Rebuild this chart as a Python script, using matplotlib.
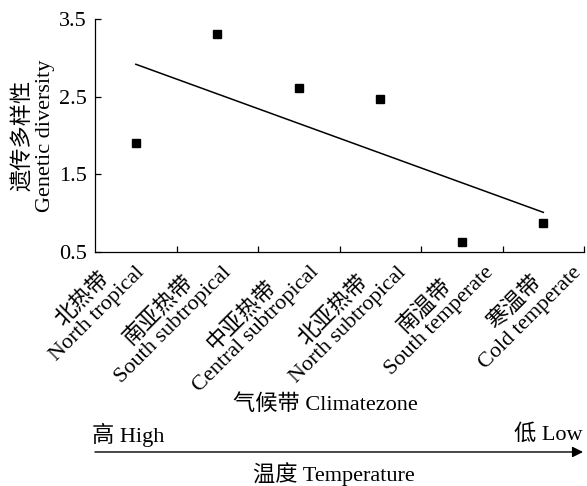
import numpy as np
import matplotlib
matplotlib.use('Agg')
import matplotlib.pyplot as plt
from matplotlib.transforms import ScaledTranslation

# 字体: 英文 Times 风格, 中文回退到 Noto CJK
plt.rcParams['font.family'] = ['Liberation Serif', 'Noto Sans CJK SC']
plt.rcParams['font.size'] = 16

# 数据
zones_cn = ['北热带', '南亚热带', '中亚热带', '北亚热带', '南温带', '寒温带']
zones_en = ['North tropical', 'South subtropical', 'Central subtropical',
            'North subtropical', 'South temperate', 'Cold temperate']
diversity = [1.90, 3.31, 2.61, 2.47, 0.63, 0.87]

yticks = [0.5, 1.5, 2.5, 3.5]

fig = plt.figure(figsize=(5.87, 4.86), dpi=100)
ax = fig.add_axes([0.162, 0.481, 0.833, 0.480])

x = np.arange(len(diversity)) + 0.5
ax.plot(x, diversity, 's', color='black', ms=6, zorder=3)

# 线性趋势线
k, b = np.polyfit(x, diversity, 1)
ax.plot([x[0], x[-1]], [k * x[0] + b, k * x[-1] + b], color='black', lw=1.1)

ax.set_xlim(0, len(diversity))
ax.set_ylim(0.5, 3.5)
ax.set_yticks(yticks)
ax.set_yticklabels([f'{v:.1f}' for v in yticks])

for s in ['top', 'right']:
    ax.spines[s].set_visible(False)
for s in ['left', 'bottom']:
    ax.spines[s].set_linewidth(0.9)

# 类别标签放在中心, 刻度线在分界处
labels = [f'{c}\n{e}' for c, e in zip(zones_cn, zones_en)]
ax.set_xticks(x)
ax.set_xticklabels(labels, rotation=45, ha='right', va='center',
                   rotation_mode='anchor', multialignment='center',
                   linespacing=1.05, fontsize=16)
ax.set_xticks(np.arange(1, len(diversity) + 1), minor=True)
ax.tick_params(axis='x', which='major', length=0, pad=7)
ax.tick_params(axis='x', which='minor', direction='in', length=4, width=0.9)
ax.tick_params(axis='y', direction='in', length=4, width=0.9, pad=6)

for i, lab in enumerate(ax.get_xticklabels()):
    dx = (-2 + 5.9 * i) / 100.0
    lab.set_transform(lab.get_transform() + ScaledTranslation(dx, 0, fig.dpi_scale_trans))

ax.set_ylabel('遗传多样性\nGenetic diversity', multialignment='center',
              linespacing=1.1, labelpad=3)

fig.text(0.554, 0.167, '气候带 Climatezone', ha='center', va='center')
fig.text(0.157, 0.105, '高 High', ha='left', va='center')
fig.text(0.993, 0.105, '低 Low', ha='right', va='center')
fig.text(0.569, 0.024, '温度 Temperature', ha='center', va='center')
fig.add_artist(matplotlib.patches.FancyArrowPatch(
    (0.157, 0.070), (0.998, 0.070), transform=fig.transFigure,
    arrowstyle='-|>', mutation_scale=16, color='black', lw=1.0))

plt.savefig('out.png', dpi=100)
